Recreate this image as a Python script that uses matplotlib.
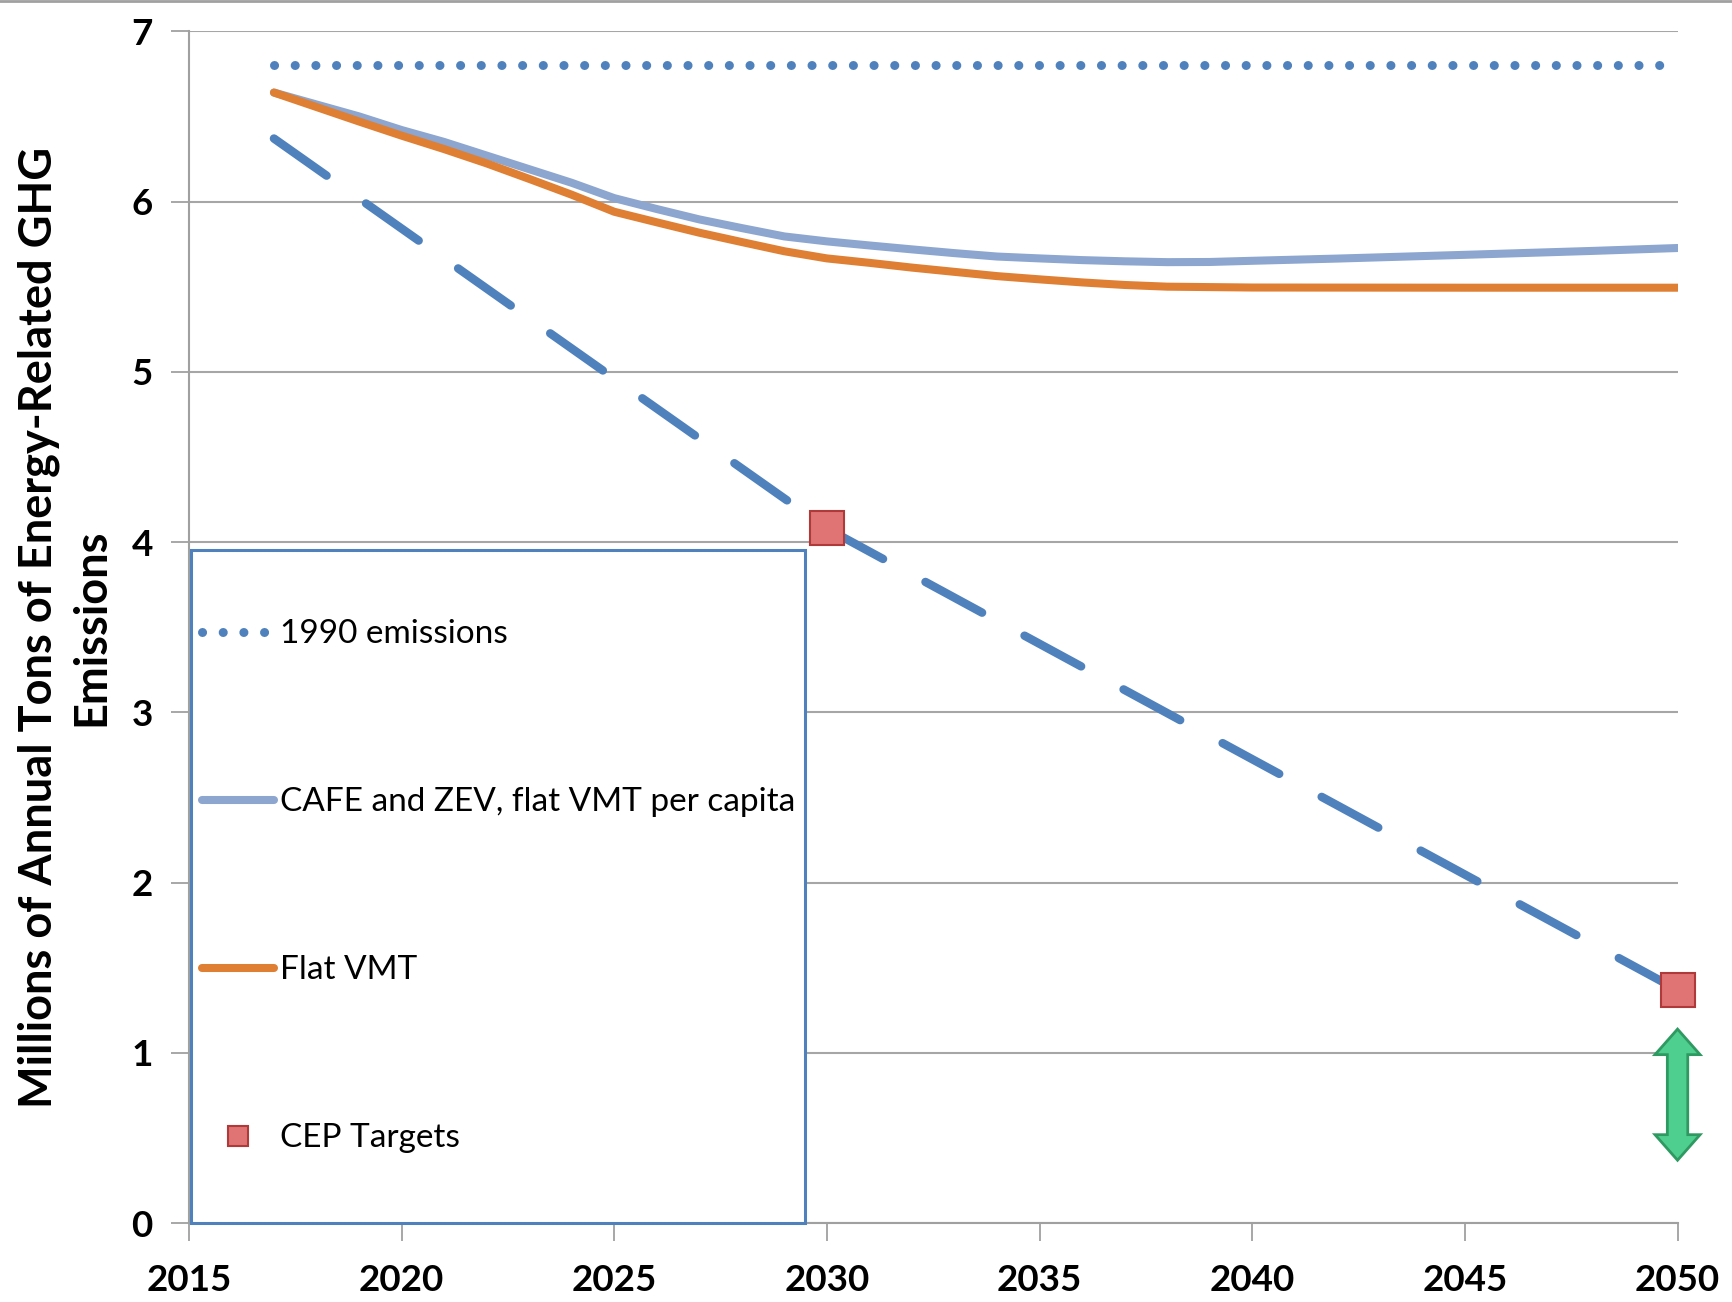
import matplotlib
matplotlib.use("Agg")
import matplotlib.pyplot as plt
from matplotlib.patches import Polygon, Rectangle
from matplotlib.lines import Line2D

plt.rcParams['font.family'] = ['Lato', 'DejaVu Sans']

# ---- data ----
years_1990 = [2017, 2050]
emis_1990 = [6.80, 6.80]

years_cafe = [2017, 2018, 2019, 2020, 2021, 2022, 2023, 2024, 2025, 2026, 2027, 2028, 2029,
              2030, 2031, 2032, 2033, 2034, 2035, 2036, 2037, 2038, 2039, 2040, 2042, 2045, 2048, 2050]
cafe = [6.64, 6.57, 6.50, 6.42, 6.35, 6.27, 6.19, 6.11, 6.02, 5.956, 5.895, 5.844, 5.795,
        5.766, 5.742, 5.719, 5.697, 5.677, 5.666, 5.656, 5.649, 5.644, 5.645, 5.652, 5.665,
        5.687, 5.71, 5.727]

years_flat = [2017, 2018, 2019, 2020, 2021, 2022, 2023, 2024, 2025, 2026, 2027, 2028, 2029,
              2030, 2031, 2032, 2033, 2034, 2035, 2036, 2037, 2038, 2040, 2045, 2050]
flat_vmt = [6.64, 6.555, 6.47, 6.387, 6.308, 6.224, 6.133, 6.04, 5.94, 5.878, 5.817, 5.762, 5.708,
            5.666, 5.64, 5.612, 5.587, 5.562, 5.543, 5.525, 5.51, 5.50, 5.495, 5.494, 5.494]

years_path = [2017, 2030, 2050]
path = [6.37, 4.08, 1.37]

years_cep = [2030, 2050]
cep = [4.08, 1.37]

arrow_x = 2050
arrow_lo, arrow_hi = 0.37, 1.14

xticks = [2015, 2020, 2025, 2030, 2035, 2040, 2045, 2050]
yticks = [0, 1, 2, 3, 4, 5, 6, 7]

BLUE = '#4F81BD'
LBLUE = '#8CA6CF'
ORANGE = '#DF7F34'

fig = plt.figure(figsize=(17.33, 13.02), dpi=100)
ax = fig.add_axes([0.109, 0.0605, 0.859, 0.9155])

ax.plot(years_1990, emis_1990, color=BLUE, lw=6.5, linestyle=(0, (0.01, 2.28)),
        dash_capstyle='round', label='1990 emissions', zorder=3)
ax.plot(years_cafe, cafe, color=LBLUE, lw=5.8, solid_capstyle='round', solid_joinstyle='round',
        label='CAFE and ZEV, flat VMT per capita', zorder=3)
ax.plot(years_flat, flat_vmt, color=ORANGE, lw=5.8, solid_capstyle='round', solid_joinstyle='round',
        label='Flat VMT', zorder=4)
ax.plot(years_path, path, color=BLUE, lw=6.1, linestyle=(0, (7.6, 5.7)),
        dash_capstyle='round', zorder=3)
ax.plot(years_cep, cep, linestyle='none', marker='s', markersize=24,
        markerfacecolor='#E07474', markeredgecolor='#B03A3A', markeredgewidth=1.5,
        label='CEP Targets', zorder=5, clip_on=False)

# green double arrow
hw, sw, hl = 0.53, 0.24, 0.15
xa = arrow_x
verts = [(xa, arrow_hi), (xa + hw, arrow_hi - hl), (xa + sw, arrow_hi - hl),
         (xa + sw, arrow_lo + hl), (xa + hw, arrow_lo + hl), (xa, arrow_lo),
         (xa - hw, arrow_lo + hl), (xa - sw, arrow_lo + hl), (xa - sw, arrow_hi - hl),
         (xa - hw, arrow_hi - hl)]
ax.add_patch(Polygon(verts, closed=True, facecolor='#4FCF8F', edgecolor='#2E9A62',
                     lw=2.0, zorder=6, clip_on=False))

ax.set_xlim(2015, 2050)
ax.set_ylim(0, 7)
ax.set_xticks(xticks)
ax.set_yticks(yticks)
ax.tick_params(axis='both', which='major', labelsize=26.5, length=13, width=1.3,
               color='#A0A0A0')
ax.tick_params(axis='x', pad=16)
ax.tick_params(axis='y', pad=13)
for lab in ax.get_xticklabels() + ax.get_yticklabels():
    lab.set_fontweight('bold')
ax.grid(axis='y', color='#A6A6A6', lw=1.5)
ax.set_axisbelow(True)
for s in ['top', 'right']:
    ax.spines[s].set_visible(False)
for s in ['left', 'bottom']:
    ax.spines[s].set_color('#A0A0A0')
    ax.spines[s].set_linewidth(1.5)

ax.set_ylabel('Millions of Annual Tons of Energy-Related GHG\nEmissions', fontsize=32.5,
              fontweight='bold', linespacing=1.3, labelpad=14)

# legend box frame and legend
ax.add_patch(Rectangle((0.0015, 0.0), 0.4125, 0.565, transform=ax.transAxes, fill=True,
                       facecolor='white', edgecolor=BLUE, lw=2.2, zorder=7, clip_on=False))
leg = ax.legend(loc='center left', bbox_to_anchor=(0.0015, 0.2825),
                fontsize=24, labelspacing=4.14, borderpad=0.33, handlelength=2.15,
                handletextpad=0.2, borderaxespad=0, markerscale=0.62, frameon=False)
leg.set_zorder(8)

fig.add_artist(Line2D([0, 1], [0.999, 0.999], color='#A0A0A0', lw=2, transform=fig.transFigure))

fig.savefig('out.png', dpi=100)
